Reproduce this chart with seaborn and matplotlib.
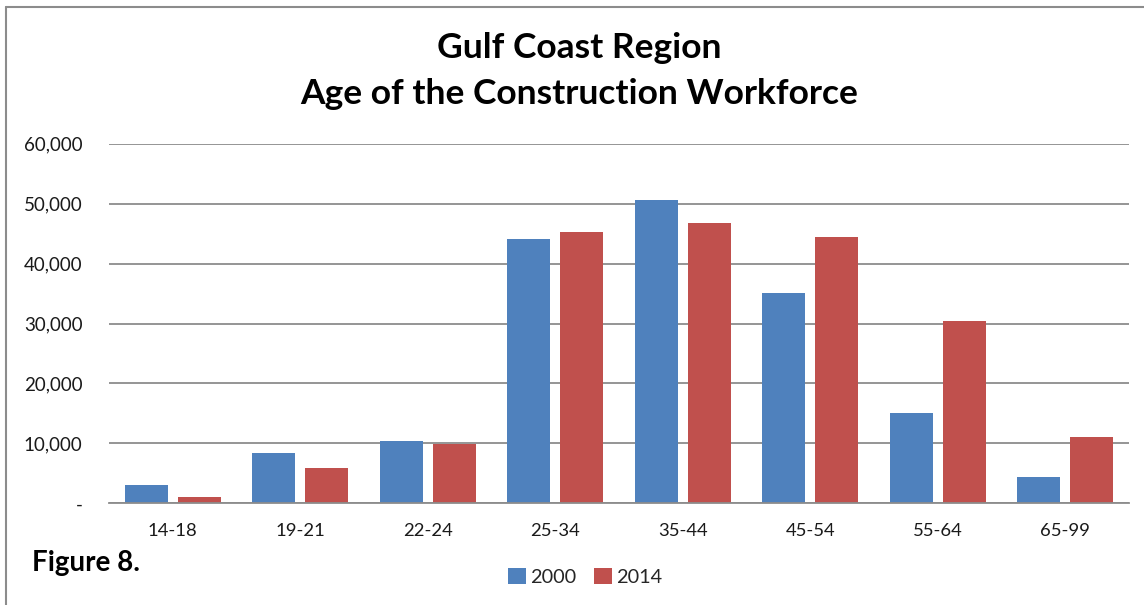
import matplotlib
matplotlib.use("Agg")
import matplotlib.pyplot as plt
from matplotlib.lines import Line2D
from matplotlib.patches import Patch
import seaborn as sns
import pandas as pd

age_groups = ["14-18", "19-21", "22-24", "25-34", "35-44", "45-54", "55-64", "65-99"]
values_2000 = [3000, 8380, 10450, 44120, 50600, 35060, 15020, 4340]
values_2014 = [1100, 5940, 9950, 45240, 46800, 44400, 30480, 11020]
years = ["2000", "2014"]
y_ticks = [0, 10000, 20000, 30000, 40000, 50000, 60000]
y_tick_labels = ["-", "10,000", "20,000", "30,000", "40,000", "50,000", "60,000"]
colors = ["#4F81BD", "#C0504D"]

df = pd.DataFrame({
    "age": age_groups * 2,
    "value": values_2000 + values_2014,
    "year": [years[0]] * len(age_groups) + [years[1]] * len(age_groups),
})

sns.set_theme(style="white")
plt.rcParams["font.family"] = ["Lato", "DejaVu Sans"]

fig = plt.figure(figsize=(11.44, 6.05), dpi=100)
ax = fig.add_axes([109 / 1144, 1 - 503.3 / 605, 1020 / 1144, 359.6 / 605])

sns.barplot(data=df, x="age", y="value", hue="year", palette=colors,
            width=0.83, gap=0.19, ax=ax, legend=False, saturation=1,
            edgecolor="none", linewidth=0)

ax.set_ylim(0, 60000)
ax.set_xlim(-0.5, len(age_groups) - 0.5)
ax.set_yticks(y_ticks)
ax.set_yticklabels(y_tick_labels)
ax.yaxis.grid(True, color="#8C8C8C", linewidth=1.3)
ax.set_axisbelow(True)
for s in ["top", "right", "left"]:
    ax.spines[s].set_visible(False)
ax.spines["bottom"].set_color("#8C8C8C")
ax.spines["bottom"].set_linewidth(1.3)
ax.set_xlabel("")
ax.set_ylabel("")
ax.tick_params(axis="y", length=0, pad=19, labelsize=13.5, colors="#1a1a1a")
ax.tick_params(axis="x", length=0, pad=14, labelsize=13.3, colors="#1a1a1a")

fig.text(0.506, 1 - 48 / 605, "Gulf Coast Region", ha="center", va="center",
         fontsize=25.5, fontweight="bold", color="black")
fig.text(0.506, 1 - 94 / 605, "Age of the Construction Workforce", ha="center",
         va="center", fontsize=25.5, fontweight="bold", color="black")
fig.text(32 / 1144, 1 - 563 / 605, "Figure 8.", ha="left", va="center",
         fontsize=20, fontweight="bold", color="black")

handles = [Patch(facecolor=c, edgecolor="none") for c in colors]
fig.legend(handles, years, loc="center", bbox_to_anchor=(585 / 1144, 1 - 577 / 605),
           ncol=2, frameon=False, fontsize=14.3, handlelength=0.9, handleheight=0.9,
           handletextpad=0.2, columnspacing=0.9)

fig.add_artist(Line2D([6 / 1144, 1], [1 - 7 / 605, 1 - 7 / 605],
                      transform=fig.transFigure, color="#8C8C8C", linewidth=1.5))
fig.add_artist(Line2D([6 / 1144, 6 / 1144], [0, 1 - 7 / 605],
                      transform=fig.transFigure, color="#8C8C8C", linewidth=1.5))

fig.savefig("out.png", dpi=100, facecolor="white")
